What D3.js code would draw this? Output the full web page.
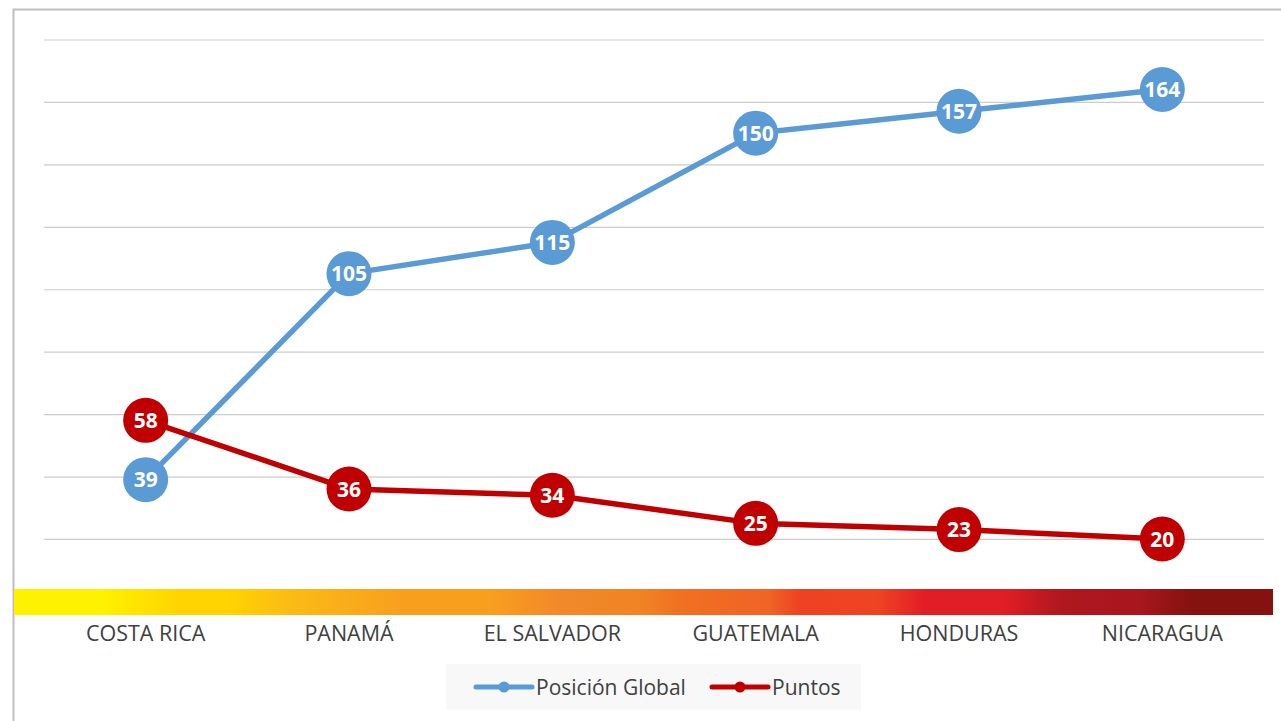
<!DOCTYPE html>
<html>
<head>
<meta charset="utf-8">
<script src="https://cdn.jsdelivr.net/npm/d3@7"></script>
<style>
  html, body { margin: 0; padding: 0; background: #fff; }
  svg { display: block; font-family: "Open Sans", sans-serif; }
</style>
</head>
<body>
<div id="chart"></div>
<script>
// --- Data ---
const paises = ["COSTA RICA", "PANAMÁ", "EL SALVADOR", "GUATEMALA", "HONDURAS", "NICARAGUA"];
const posicionGlobal = [39, 105, 115, 150, 157, 164];
const puntos = [58, 36, 34, 25, 23, 20];
const gridTicks = [20, 40, 60, 80, 100, 120, 140, 160, 180];
const seriesNames = ["Posición Global", "Puntos"];

const width = 1281, height = 721;
const plot = { left: 44, right: 1264, top: 39.5, bottom: 601.4 };

const svg = d3.select("#chart").append("svg")
  .attr("width", width)
  .attr("height", height);

// --- outer frame (cut off at right/bottom like the source) ---
svg.append("rect")
  .attr("x", 13.5).attr("y", 9.5)
  .attr("width", 1400).attr("height", 800)
  .attr("fill", "#fff")
  .attr("stroke", "#bfbfbf")
  .attr("stroke-width", 2);

// --- scales ---
const x = d3.scaleBand().domain(paises).range([plot.left, plot.right]).padding(0);
const y = d3.scaleLinear().domain([0, 180]).range([plot.bottom, plot.top]);
const cx = d => x(d) + x.bandwidth() / 2;

// --- gridlines ---
const grid = svg.append("g")
  .call(d3.axisLeft(y).tickValues(gridTicks).tickSize(-(plot.right - plot.left)).tickFormat(""))
  .attr("transform", `translate(${plot.left},0)`);
grid.select(".domain").remove();
grid.selectAll(".tick line").attr("stroke", "#cccccc").attr("stroke-width", 1.2);

// --- gradient band along the category axis ---
const defs = svg.append("defs");
const grad = defs.append("linearGradient")
  .attr("id", "band")
  .attr("gradientUnits", "userSpaceOnUse")
  .attr("x1", 14).attr("x2", 1273).attr("y1", 0).attr("y2", 0);
[
  [14, "#fff200"], [100, "#fff200"], [180, "#ffd400"], [228, "#ffd400"],
  [290, "#fbbb15"], [400, "#f8a01e"], [487, "#f8a01e"], [560, "#f2882a"],
  [640, "#f08424"], [680, "#f17022"], [770, "#f06326"], [800, "#ef4123"],
  [877, "#ef4423"], [925, "#e11d25"], [1005, "#e11d25"], [1060, "#b0171f"],
  [1140, "#a9161e"], [1190, "#86120f"], [1273, "#86120f"]
].forEach(([px, c]) => {
  grad.append("stop").attr("offset", (px - 14) / (1273 - 14)).attr("stop-color", c);
});
svg.append("rect")
  .attr("x", 14).attr("y", 589)
  .attr("width", 1273 - 14).attr("height", 26)
  .attr("fill", "url(#band)");

// --- category labels ---
const xAxis = svg.append("g")
  .attr("transform", "translate(0,622)")
  .call(d3.axisBottom(x).tickSize(0).tickPadding(0));
xAxis.select(".domain").remove();
xAxis.selectAll("text")
  .attr("dy", "0")
  .attr("y", 19)
  .attr("fill", "#404040")
  .style("font-family", "'Open Sans', sans-serif")
  .style("font-size", "21.5px");

// --- series ---
const series = [
  { name: seriesNames[0], values: posicionGlobal, color: "#5b9bd5" },
  { name: seriesNames[1], values: puntos, color: "#c00000" }
];

const line = d3.line().x((d, i) => cx(paises[i])).y(d => y(d));

series.forEach(s => {
  const g = svg.append("g");
  g.append("path")
    .datum(s.values)
    .attr("d", line)
    .attr("fill", "none")
    .attr("stroke", s.color)
    .attr("stroke-width", 5.5)
    .attr("stroke-linejoin", "round");

  const pts = g.selectAll("g.pt")
    .data(s.values)
    .enter().append("g")
    .attr("transform", (d, i) => `translate(${cx(paises[i])},${y(d)})`);

  pts.append("circle")
    .attr("r", 22.5)
    .attr("fill", s.color);

  pts.append("text")
    .attr("text-anchor", "middle")
    .attr("dy", "0.36em")
    .attr("fill", "#fff")
    .style("font-weight", "bold")
    .style("font-size", "21px")
    .text(d => d);
});

// --- legend ---
const legend = svg.append("g");
legend.append("rect")
  .attr("x", 446).attr("y", 664)
  .attr("width", 415).attr("height", 46)
  .attr("fill", "#f8f8f8");

const legendX = [476, 712];
series.forEach((s, i) => {
  const lg = legend.append("g").attr("transform", `translate(${legendX[i]},687)`);
  lg.append("line")
    .attr("x1", 0).attr("x2", 56)
    .attr("stroke", s.color)
    .attr("stroke-width", 5)
    .attr("stroke-linecap", "round");
  lg.append("circle").attr("cx", 28).attr("r", 5.5).attr("fill", s.color);
  lg.append("text")
    .attr("x", 60).attr("y", 7.5)
    .attr("fill", "#404040")
    .style("font-size", "21px")
    .text(s.name);
});
</script>
</body>
</html>
